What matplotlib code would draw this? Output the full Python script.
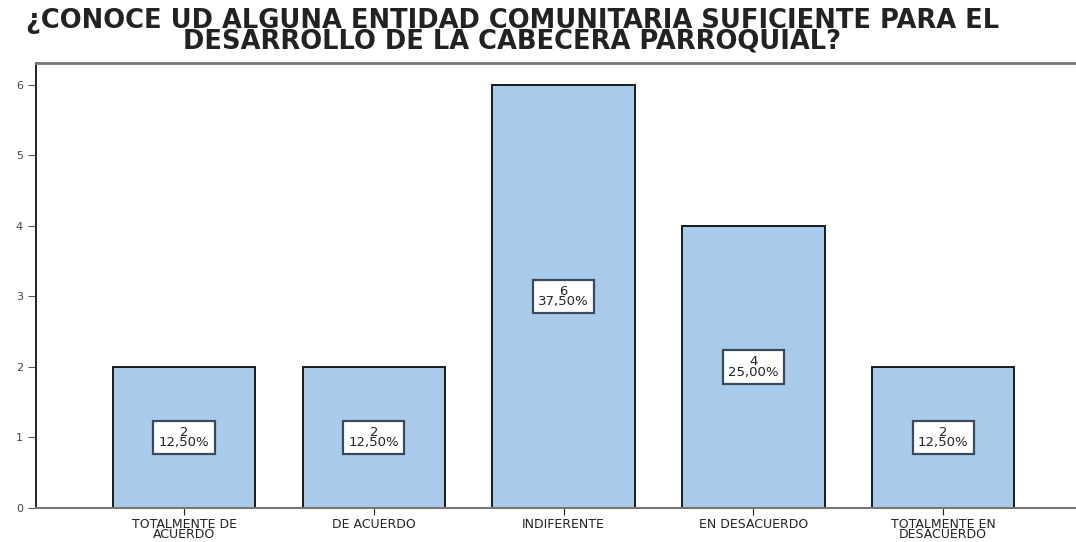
import matplotlib.pyplot as plt

# Datos de la encuesta
categorias = ['TOTALMENTE DE\nACUERDO', 'DE ACUERDO', 'INDIFERENTE',
              'EN DESACUERDO', 'TOTALMENTE EN\nDESACUERDO']
frecuencias = [2, 2, 6, 4, 2]
porcentajes = ['12,50%', '12,50%', '37,50%', '25,00%', '12,50%']

titulo = ('¿CONOCE UD ALGUNA ENTIDAD COMUNITARIA SUFICIENTE PARA EL\n'
          'DESARROLLO DE LA CABECERA PARROQUIAL?')

plt.rcParams['font.family'] = ['DejaVu Sans']

fig = plt.figure(figsize=(10.76, 5.42), dpi=100)
ax = fig.add_axes([0.0335, 0.0627, 0.97, 0.8211])

x = list(range(len(categorias)))
ax.bar(x, frecuencias, width=0.75, color='#A9CBEB', edgecolor='#1a1a1a',
       linewidth=1.4, zorder=2)

# etiquetas de frecuencia y porcentaje en el centro de cada barra
for xi, f, p in zip(x, frecuencias, porcentajes):
    ax.text(xi, f / 2, f'{f}\n{p}', ha='center', va='center', fontsize=9.5,
            linespacing=0.72, color='#222222', zorder=3,
            bbox=dict(boxstyle='square,pad=0.4', facecolor='white',
                      edgecolor='#3a4a5a', linewidth=1.6))

ax.set_xlim(-0.78, 4.72)
ax.set_ylim(0, 6.31)
ax.set_yticks(range(0, 7))
ax.set_xticks(x)
ax.set_xticklabels(categorias, fontsize=9, linespacing=0.72)
ax.tick_params(axis='y', labelsize=8, length=6, color='#555555', labelcolor='#444444')
ax.tick_params(axis='x', length=5, color='#222222', labelcolor='#222222', pad=2)

ax.spines['right'].set_visible(False)
ax.spines['left'].set_color('#111111')
ax.spines['left'].set_linewidth(1.3)
ax.spines['top'].set_color('#777777')
ax.spines['top'].set_linewidth(2)
ax.spines['bottom'].set_color('#777777')
ax.spines['bottom'].set_linewidth(1.5)

fig.text(0.476, 0.985, titulo, ha='center', va='top', fontsize=18.5,
         fontweight='bold', linespacing=0.7, color='#222222')

fig.savefig('out.png', dpi=100)
